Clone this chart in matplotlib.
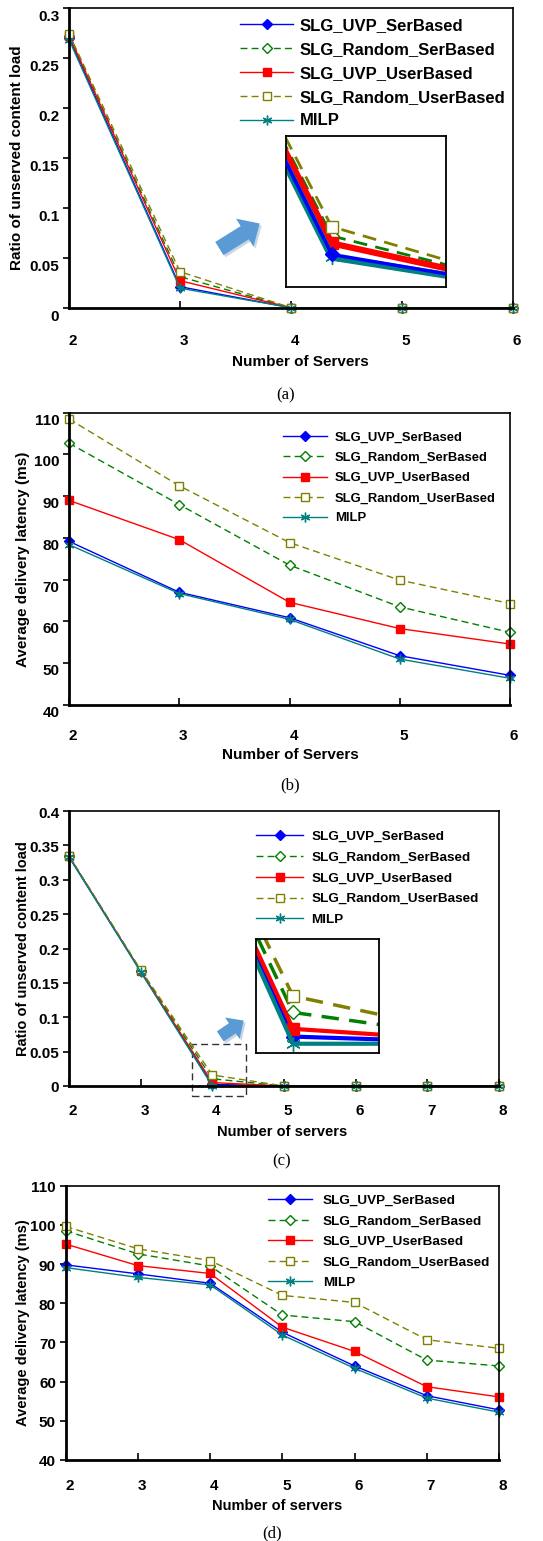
import numpy as np
import matplotlib
matplotlib.use('Agg')
import matplotlib.pyplot as plt
import matplotlib.transforms as mtransforms
from matplotlib.patches import Rectangle

plt.rcParams['font.family'] = ['Liberation Sans', 'DejaVu Sans']
plt.rcParams['font.weight'] = 'bold'

# ---- data ----
names = ['SLG_UVP_SerBased', 'SLG_Random_SerBased', 'SLG_UVP_UserBased',
         'SLG_Random_UserBased', 'MILP']

# (a) ratio of unserved content load, 2..6 servers
servers_a = [2, 3, 4, 5, 6]
a_uvp_ser = [0.270, 0.021, 0, 0, 0]
a_rnd_ser = [0.272, 0.031, 0, 0, 0]
a_uvp_user = [0.272, 0.027, 0, 0, 0]
a_rnd_user = [0.274, 0.036, 0, 0, 0]
a_milp = [0.268, 0.0195, 0, 0, 0]

# (b) average delivery latency (ms), 2..6 servers
servers_b = [2, 3, 4, 5, 6]
b_uvp_ser = [79.2, 67.0, 60.9, 51.8, 47.1]
b_rnd_ser = [102.7, 88.0, 73.5, 63.5, 57.4]
b_uvp_user = [89.0, 79.6, 64.6, 58.3, 54.6]
b_rnd_user = [108.5, 92.5, 78.9, 69.9, 64.3]
b_milp = [78.4, 66.7, 60.5, 51.0, 46.4]

# (c) ratio of unserved content load, 2..8 servers
servers_c = [2, 3, 4, 5, 6, 7, 8]
c_uvp_ser = [0.334, 0.167, 0.0024, 0, 0, 0, 0]
c_rnd_ser = [0.334, 0.168, 0.0105, 0, 0, 0, 0]
c_uvp_user = [0.334, 0.167, 0.005, 0, 0, 0, 0]
c_rnd_user = [0.335, 0.169, 0.016, 0, 0, 0, 0]
c_milp = [0.333, 0.166, 0.0, 0, 0, 0, 0]

# (d) average delivery latency (ms), 2..8 servers
servers_d = [2, 3, 4, 5, 6, 7, 8]
d_uvp_ser = [89.8, 87.5, 85.1, 72.6, 64.0, 56.4, 52.8]
d_rnd_ser = [98.5, 92.6, 89.5, 77.0, 75.3, 65.5, 64.0]
d_uvp_user = [95.1, 89.6, 87.6, 73.9, 67.7, 58.7, 56.1]
d_rnd_user = [99.6, 93.9, 90.9, 82.0, 80.2, 70.7, 68.5]
d_milp = [89.1, 86.6, 84.7, 71.9, 63.4, 55.8, 52.2]

colors = ['#0000ff', '#008000', '#ff0000', '#808000', '#008080']
markers = ['D', 'D', 's', 's', (6, 2, 0)]
faces = ['#0000ff', 'white', '#ff0000', 'white', '#008080']
styles = ['-', (0, (5, 3)), '-', (0, (5, 3)), '-']
msizes = [5, 5, 5.5, 5.5, 7]

W, H = 543, 1541
fig = plt.figure(figsize=(W / 100, H / 100), dpi=100)
fig.patch.set_facecolor('white')


def box(l, r, t, b):
    return [l / W, 1 - b / H, (r - l) / W, (b - t) / H]


def draw_series(ax, x, series, lw=1.0, ms_scale=1.0, lws=None):
    for i, y in enumerate(series):
        ax.plot(x, y, color=colors[i], linestyle=styles[i],
                lw=lws[i] if lws else lw, marker=markers[i],
                markerfacecolor=faces[i], markeredgecolor=colors[i],
                markersize=msizes[i] * ms_scale, markeredgewidth=1.0,
                label=names[i], clip_on=False if lws is None else True)


def style_axes(ax, xpad, ydy, xdx=4):
    for s in ['top', 'right']:
        ax.spines[s].set_linewidth(1.2)
    for s in ['left', 'bottom']:
        ax.spines[s].set_linewidth(2)
    ax.tick_params(axis='x', direction='in', length=5, width=1.2,
                   pad=xpad, labelsize=11)
    ax.tick_params(axis='y', direction='out', length=4, width=1.2,
                   pad=3, labelsize=11)
    dx = mtransforms.ScaledTranslation(xdx / 100, 0, fig.dpi_scale_trans)
    dy = mtransforms.ScaledTranslation(0, -ydy / 100, fig.dpi_scale_trans)
    for lab in ax.get_xticklabels():
        lab.set_transform(lab.get_transform() + dx)
    for lab in ax.get_yticklabels():
        lab.set_transform(lab.get_transform() + dy)


def add_legend(ax, x_handle, y_first, spacing, fs, hl_px, tp_px):
    fpx = fs * 100 / 72
    top = y_first - 0.4 * fpx
    ax.legend(ax.get_lines()[:5], names, loc='upper left',
              bbox_to_anchor=(x_handle / W, 1 - top / H),
              bbox_transform=fig.transFigure, frameon=False,
              prop={'size': fs, 'weight': 'bold'},
              handlelength=hl_px / fpx, handletextpad=tp_px / fpx,
              labelspacing=(spacing - 0.92 * fpx) / fpx,
              borderpad=0, borderaxespad=0)


def labels(ax, xl, yl, xl_pos, yl_x, fs=11):
    ax.set_xlabel(xl, fontsize=fs, fontweight='bold', va='center')
    ax.set_ylabel(yl, fontsize=fs, fontweight='bold', va='center')
    ax.xaxis.set_label_coords(*xl_pos)
    ax.yaxis.set_label_coords(yl_x, 0.5)


def arrow(x0, y0, x1, y1, scale):
    for off, col in [((2, -2), '#c8d6e6'), ((0, 0), '#5b9bd5')]:
        fig.patches.append(matplotlib.patches.FancyArrowPatch(
            (x0 + off[0], H - y0 + off[1]), (x1 + off[0], H - y1 + off[1]),
            transform=mtransforms.IdentityTransform(),
            arrowstyle='simple,head_length=0.9,head_width=1.7,tail_width=0.8',
            mutation_scale=scale, color=col, lw=0))


# ---- (a) ----
ax = fig.add_axes(box(69, 513, 7.5, 307.7))
draw_series(ax, servers_a, [a_uvp_ser, a_rnd_ser, a_uvp_user, a_rnd_user, a_milp])
ax.set_xlim(2, 6)
ax.set_ylim(0, 0.3)
ax.set_xticks(servers_a)
ax.set_yticks([0, 0.05, 0.1, 0.15, 0.2, 0.25, 0.3])
ax.set_yticklabels(['0', '0.05', '0.1', '0.15', '0.2', '0.25', '0.3'])
style_axes(ax, xpad=19, ydy=8)
labels(ax, 'Number of Servers', 'Ratio of unserved content load',
       (0.52, -0.181), -0.118)
add_legend(ax, 240, 25, 24.1, 12, 53, 7)

ins = fig.add_axes(box(286, 446, 136, 287))
draw_series(ins, servers_a, [a_uvp_ser, a_rnd_ser, a_uvp_user, a_rnd_user, a_milp],
            ms_scale=1.5, lws=[2.5, 2, 4.5, 2, 5])
ins.lines[0].set_zorder(5)
ins.set_xlim(2.8, 3.5)
ins.set_ylim(0.0034, 0.085)
ins.set_xticks([])
ins.set_yticks([])
for s in ins.spines.values():
    s.set_linewidth(1.3)
arrow(217, 250, 262, 222, 14)
fig.text(286 / W, 1 - 395 / H, '(a)', family='Liberation Serif',
         weight='normal', fontsize=12, ha='center', va='center')

# ---- (b) ----
ax = fig.add_axes(box(69, 510, 412.7, 705))
draw_series(ax, servers_b, [b_uvp_ser, b_rnd_ser, b_uvp_user, b_rnd_user, b_milp])
ax.set_xlim(2, 6)
ax.set_ylim(40, 110)
ax.set_xticks(servers_b)
ax.set_yticks(range(40, 111, 10))
style_axes(ax, xpad=17, ydy=6.5)
labels(ax, 'Number of Servers', 'Average delivery latency (ms)',
       (0.501, -0.171), -0.104)
add_legend(ax, 283, 437, 20, 9.4, 44, 8)
fig.text(290 / W, 1 - 785 / H, '(b)', family='Liberation Serif',
         weight='normal', fontsize=12, ha='center', va='center')

# ---- (c) ----
ax = fig.add_axes(box(69, 499, 811, 1086))
draw_series(ax, servers_c, [c_uvp_ser, c_rnd_ser, c_uvp_user, c_rnd_user, c_milp])
ax.set_xlim(2, 8)
ax.set_ylim(0, 0.4)
ax.set_xticks(servers_c)
ax.set_yticks([0, 0.05, 0.1, 0.15, 0.2, 0.25, 0.3, 0.35, 0.4])
ax.set_yticklabels(['0', '0.05', '0.1', '0.15', '0.2', '0.25', '0.3', '0.35', '0.4'])
style_axes(ax, xpad=13, ydy=1)
labels(ax, 'Number of servers', 'Ratio of unserved content load',
       (0.495, -0.166), -0.108, fs=10.5)
add_legend(ax, 256, 835.7, 20.8, 9.7, 47, 8.5)
ax.add_patch(Rectangle((3.716, -0.014), 0.75, 0.075, fill=False,
                       ls=(0, (5, 3)), lw=1, ec='#333333', clip_on=False))

ins = fig.add_axes(box(256, 379.3, 939.3, 1052.7))
draw_series(ins, servers_c, [c_uvp_ser, c_rnd_ser, c_uvp_user, c_rnd_user, c_milp],
            ms_scale=1.5, lws=[3, 2.5, 3, 2.5, 3])
ins.set_xlim(3.834, 4.387)
ins.set_ylim(-0.003, 0.035)
ins.set_xticks([])
ins.set_yticks([])
for s in ins.spines.values():
    s.set_linewidth(1.3)
arrow(218, 1038, 246, 1019, 11)
fig.text(282 / W, 1 - 1161.7 / H, '(c)', family='Liberation Serif',
         weight='normal', fontsize=12, ha='center', va='center')

# ---- (d) ----
ax = fig.add_axes(box(65.7, 499, 1185.7, 1460))
draw_series(ax, servers_d, [d_uvp_ser, d_rnd_ser, d_uvp_user, d_rnd_user, d_milp])
ax.set_xlim(2, 8)
ax.set_ylim(40, 110)
ax.set_xticks(servers_d)
ax.set_yticks(range(40, 111, 10))
style_axes(ax, xpad=14, ydy=1)
labels(ax, 'Number of servers', 'Average delivery latency (ms)',
       (0.487, -0.167), -0.099, fs=10.5)
add_legend(ax, 268, 1200, 20.5, 9.7, 44, 11)
fig.text(272 / W, 1 - 1533 / H, '(d)', family='Liberation Serif',
         weight='normal', fontsize=12, ha='center', va='center')

fig.savefig('out.png', dpi=100, facecolor='white')
